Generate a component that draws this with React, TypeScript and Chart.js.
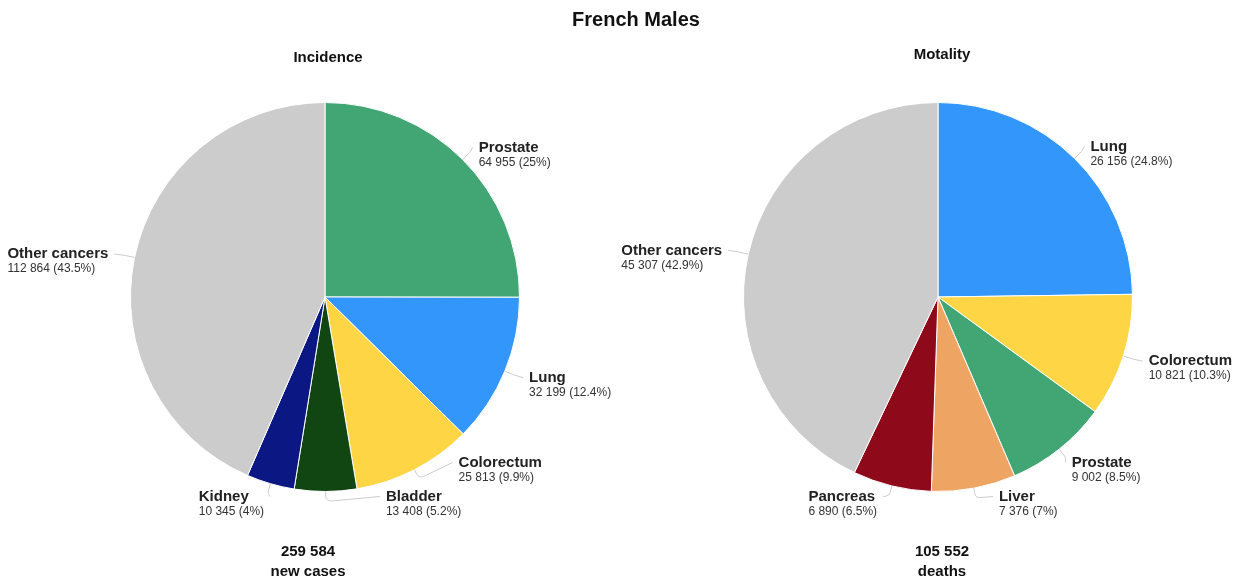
import React, { useEffect, useRef } from "react";
import Chart from "chart.js/auto";

// ---- data ----
const mainTitle = "French Males";

const incidenceTitle = "Incidence";
const incidenceCategories = ["Prostate", "Lung", "Colorectum", "Bladder", "Kidney", "Other cancers"];
const incidenceValues = [64955, 32199, 25813, 13408, 10345, 112864];
const incidenceColors = ["#41a673", "#3396fa", "#fed645", "#114612", "#0b1782", "#cccccc"];
const incidenceFooter = "new cases";

const mortalityTitle = "Motality";
const mortalityCategories = ["Lung", "Colorectum", "Prostate", "Liver", "Pancreas", "Other cancers"];
const mortalityValues = [26156, 10821, 9002, 7376, 6890, 45307];
const mortalityColors = ["#3396fa", "#fed645", "#41a673", "#eea563", "#8e0919", "#cccccc"];
const mortalityFooter = "deaths";

const FONT = '"Liberation Sans", Arial, Helvetica, sans-serif';

const fmt = (n: number) => String(n).replace(/\B(?=(\d{3})+(?!\d))/g, " ");
const pct = (v: number, t: number) => String(Math.round((v / t) * 1000) / 10) + "%";

const pieLabels = {
  id: "pieLabels",
  afterDraw(chart: any, _args: any, opts: any) {
    const ctx = chart.ctx as CanvasRenderingContext2D;
    const meta = chart.getDatasetMeta(0);
    const data: number[] = chart.data.datasets[0].data;
    const labels: string[] = chart.data.labels;
    const total = data.reduce((a, b) => a + b, 0);

    const items = meta.data.map((arc: any, i: number) => {
      const p = arc.getProps(["x", "y", "startAngle", "endAngle", "outerRadius"], true);
      const mid = (p.startAngle + p.endAngle) / 2;
      const cos = Math.cos(mid);
      const sin = Math.sin(mid);
      return {
        i,
        cx: p.x,
        cy: p.y,
        r: p.outerRadius,
        cos,
        sin,
        right: cos >= 0,
        y: p.y + (p.outerRadius + 17) * sin,
      };
    });
    items.forEach((it: any) => {
      const lim = it.r + 5;
      it.y = Math.min(Math.max(it.y, it.cy - lim), it.cy + lim);
    });
    const gap = 34;
    [true, false].forEach((side) => {
      const arr = items.filter((it: any) => it.right === side).sort((a: any, b: any) => a.y - b.y);
      for (let k = arr.length - 2; k >= 0; k--) {
        if (arr[k].y > arr[k + 1].y - gap) arr[k].y = arr[k + 1].y - gap;
      }
      for (let k = 1; k < arr.length; k++) {
        if (arr[k].y < arr[k - 1].y + gap) arr[k].y = arr[k - 1].y + gap;
      }
    });

    ctx.save();
    ctx.textBaseline = "middle";
    items.forEach((it: any) => {
      const name = labels[it.i];
      const val = fmt(data[it.i]) + " (" + pct(data[it.i], total) + ")";
      const a = it.r + 27;
      const b = it.r + 13;
      const dy = it.y - it.cy;
      const q = Math.max(1 - (dy / b) * (dy / b), 0);
      const dx = a * Math.sqrt(q);
      ctx.font = "bold 15px " + FONT;
      const w1 = ctx.measureText(name).width;
      ctx.font = "12px " + FONT;
      const w2 = ctx.measureText(val).width;
      const w = Math.max(w1, w2);
      let textX: number;
      let endX: number;
      if (it.right) {
        textX = it.cx + dx;
        endX = textX - 6;
      } else {
        textX = it.cx - dx - w;
        endX = it.cx - dx + 6;
      }
      const p0x = it.cx + it.r * it.cos;
      const p0y = it.cy + it.r * it.sin;
      const p1x = it.cx + (it.r + 10) * it.cos;
      const p1y = it.cy + (it.r + 10) * it.sin;
      ctx.beginPath();
      ctx.strokeStyle = "#cccccc";
      ctx.lineWidth = 1;
      ctx.moveTo(p0x, p0y);
      ctx.arcTo(p1x, p1y, endX, it.y, 5);
      ctx.lineTo(endX, it.y);
      ctx.stroke();

      ctx.textAlign = "left";
      ctx.fillStyle = "#222222";
      ctx.font = "bold 15px " + FONT;
      ctx.fillText(name, textX, it.y);
      ctx.fillStyle = "#333333";
      ctx.font = "12px " + FONT;
      ctx.fillText(val, textX, it.y + 15);
    });

    // subtitle
    ctx.textAlign = "center";
    ctx.fillStyle = "#111111";
    ctx.font = "bold 15px " + FONT;
    ctx.fillText(opts.subtitle, opts.subX, opts.subY);
    // footer
    ctx.fillText(fmt(total), opts.footX, opts.footY);
    ctx.fillText(opts.footer, opts.footX, opts.footY + 20);
    ctx.restore();
  },
};

function makeChart(
  canvas: HTMLCanvasElement,
  categories: string[],
  values: number[],
  colors: string[],
  padding: any,
  labelOpts: any
) {
  return new Chart(canvas, {
    type: "pie",
    data: {
      labels: categories,
      datasets: [
        {
          data: values,
          backgroundColor: colors,
          borderColor: "#ffffff",
          borderWidth: 1,
        },
      ],
    },
    options: {
      responsive: false,
      animation: false,
      devicePixelRatio: 1,
      layout: { padding },
      plugins: {
        legend: { display: false },
        tooltip: { enabled: false },
        pieLabels: labelOpts,
      } as any,
    },
    plugins: [pieLabels as any],
  });
}

export default function App() {
  const leftRef = useRef<HTMLCanvasElement>(null);
  const rightRef = useRef<HTMLCanvasElement>(null);

  useEffect(() => {
    const c1 = makeChart(
      leftRef.current!,
      incidenceCategories,
      incidenceValues,
      incidenceColors,
      { left: 130, right: 101, top: 102, bottom: 91 },
      { subtitle: incidenceTitle, subX: 328, subY: 58, footer: incidenceFooter, footX: 308, footY: 552 }
    );
    const c2 = makeChart(
      rightRef.current!,
      mortalityCategories,
      mortalityValues,
      mortalityColors,
      { left: 122, right: 109, top: 102, bottom: 91 },
      { subtitle: mortalityTitle, subX: 321, subY: 55, footer: mortalityFooter, footX: 321, footY: 552 }
    );
    return () => {
      c1.destroy();
      c2.destroy();
    };
  }, []);

  return (
    <div style={{ position: "fixed", left: 0, top: 0, width: 1242, height: 583, background: "#fff" }}>
      <canvas ref={leftRef} width={621} height={583} style={{ position: "absolute", left: 0, top: 0 }} />
      <canvas ref={rightRef} width={621} height={583} style={{ position: "absolute", left: 621, top: 0 }} />
      <div
        style={{
          position: "absolute",
          left: 486,
          top: 7,
          width: 300,
          textAlign: "center",
          font: "bold 20px " + FONT,
          lineHeight: "24px",
          color: "#111",
        }}
      >
        {mainTitle}
      </div>
    </div>
  );
}
